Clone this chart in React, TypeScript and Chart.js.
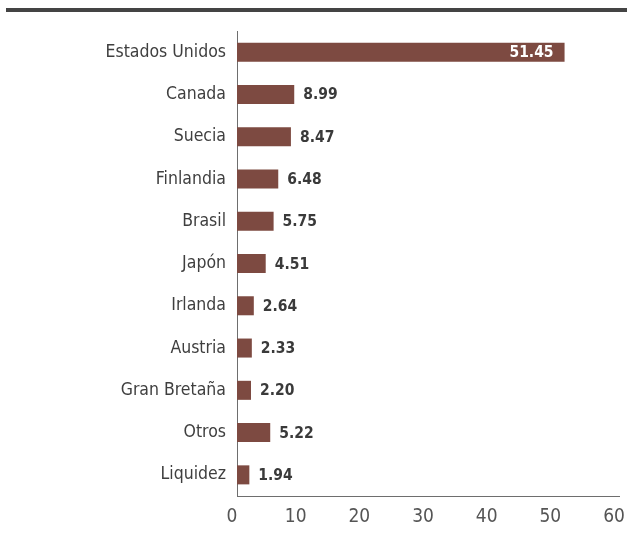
import React, { useEffect, useRef } from "react";
import { Chart, registerables } from "chart.js";

Chart.register(...registerables);

const categories = [
  "Estados Unidos",
  "Canada",
  "Suecia",
  "Finlandia",
  "Brasil",
  "Japón",
  "Irlanda",
  "Austria",
  "Gran Bretaña",
  "Otros",
  "Liquidez",
];
const values = [51.45, 8.99, 8.47, 6.48, 5.75, 4.51, 2.64, 2.33, 2.2, 5.22, 1.94];
const xTicks = [0, 10, 20, 30, 40, 50, 60];

const FONT = "'DejaVu Sans', sans-serif";
const BAR = "#7d4a41";

const valueLabels = {
  id: "valueLabels",
  afterDatasetsDraw(chart: any) {
    const ctx = chart.ctx;
    const meta = chart.getDatasetMeta(0);
    ctx.save();
    ctx.font = `bold condensed 15.5px ${FONT}`;
    ctx.textBaseline = "middle";
    meta.data.forEach((el: any, i: number) => {
      const v = values[i];
      const txt = v.toFixed(2);
      if (v > 40) {
        ctx.fillStyle = "#ffffff";
        ctx.textAlign = "right";
        ctx.fillText(txt, el.x - 11, el.y + 1);
      } else {
        ctx.fillStyle = "#3a3a3a";
        ctx.textAlign = "left";
        ctx.fillText(txt, el.x + 9, el.y + 1);
      }
    });
    ctx.restore();
  },
};

export default function App() {
  const ref = useRef<HTMLCanvasElement | null>(null);
  useEffect(() => {
    if (!ref.current) return;
    const chart = new Chart(ref.current, {
      type: "bar",
      data: {
        labels: categories,
        datasets: [
          {
            data: values,
            backgroundColor: BAR,
            barPercentage: 0.9,
            categoryPercentage: 0.5,
          },
        ],
      },
      options: {
        indexAxis: "y",
        animation: false,
        responsive: true,
        maintainAspectRatio: false,
        layout: { padding: { top: 31, right: 8, left: 0, bottom: 0 } },
        plugins: { legend: { display: false }, tooltip: { enabled: false } },
        scales: {
          x: {
            min: 0,
            max: 60,
            afterBuildTicks(scale: any) {
              scale.ticks = xTicks.map((v) => ({ value: v }));
            },
            afterFit(scale: any) {
              scale.height = 39;
              scale.paddingRight = 0;
              scale.paddingLeft = 0;
            },
            grid: { display: false, drawTicks: false },
            border: { display: true, color: "#6e6e6e", width: 1 },
            ticks: {
              padding: 10,
              labelOffset: -5,
              color: "#555555",
              font: { family: FONT, size: 19, weight: "condensed" as any },
            },
          },
          y: {
            afterFit(scale: any) {
              scale.width = 237;
            },
            grid: { display: false, drawTicks: false },
            border: { display: true, color: "#6e6e6e", width: 1 },
            ticks: {
              padding: 11,
              color: "#3f3f3f",
              font: { family: FONT, size: 17.5, weight: "condensed" as any },
            },
          },
        },
      },
      plugins: [valueLabels],
    });
    return () => chart.destroy();
  }, []);

  return (
    <div style={{ position: "fixed", left: 0, top: 0, width: 627, height: 535, background: "#fff" }}>
      <div style={{ position: "absolute", left: 6, right: 0, top: 8, height: 4, background: "#444444" }} />
      <canvas ref={ref} />
    </div>
  );
}
